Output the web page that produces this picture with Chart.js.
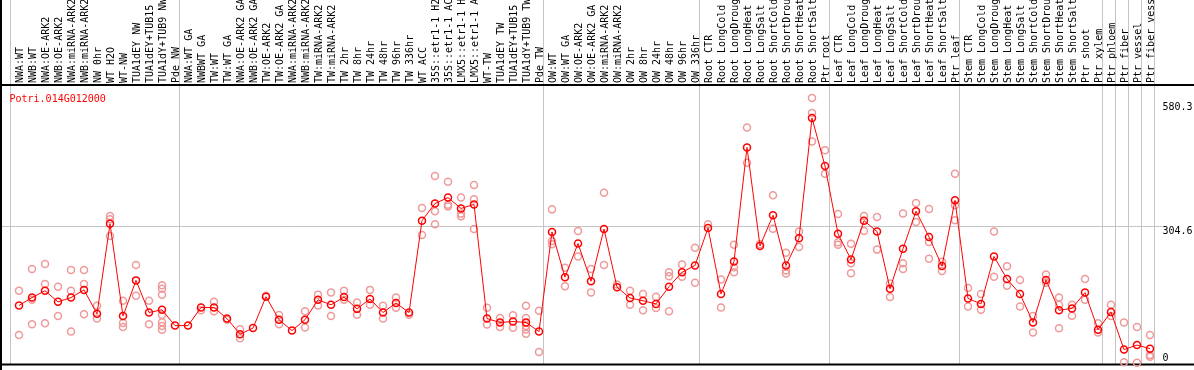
<!DOCTYPE html>
<html>
<head>
<meta charset="utf-8">
<script src="https://cdn.jsdelivr.net/npm/chart.js@4.4.0/dist/chart.umd.min.js"></script>
<style>
  html, body { margin: 0; padding: 0; background: #fff; }
  canvas { display: block; }
</style>
</head>
<body>
<canvas id="chart" width="1194" height="370"></canvas>
<script>
const geneName = 'Potri.014G012000';

const sampleLabels = [
  'NWA:WT', 'NWB:WT', 'NWA:OE-ARK2', 'NWB:OE-ARK2', 'NWA:miRNA-ARK2', 'NWB:miRNA-ARK2',
  'NW 0hr', 'WT H2O', 'WT-NW', 'TUA1dEY NW', 'TUA1dEY+TUB15 NW', 'TUA1dY+TUB9 NW', 'Pde NW',
  'NWA:WT GA', 'NWBWT GA', 'TW:WT', 'TW:WT GA', 'NWA:OE-ARK2 GA', 'NWB:OE-ARK2 GA',
  'TW:OE-ARK2', 'TW:OE-ARK2 GA', 'NWA:miRNA-ARK2', 'NWB:miRNA-ARK2', 'TW:miRNA-ARK2', 'TW:miRNA-ARK2',
  'TW 2hr', 'TW 8hr', 'TW 24hr', 'TW 48hr', 'TW 96hr', 'TW 336hr', 'WT ACC',
  '35S::etr1-1 H2O', '35S::etr1-1 ACC', 'LMX5::etr1-1 H2O', 'LMX5::etr1-1 ACC',
  'WT-TW', 'TUA1dEY TW', 'TUA1dEY+TUB15 TW', 'TUA1dY+TUB9 TW', 'Pde TW',
  'OW:WT', 'OW:WT GA', 'OW:OE-ARK2', 'OW:OE-ARK2 GA', 'OW:miRNA-ARK2', 'OW:miRNA-ARK2',
  'OW 2hr', 'OW 8hr', 'OW 24hr', 'OW 48hr', 'OW 96hr', 'OW 336hr',
  'Root CTR', 'Root LongCold', 'Root LongDrought', 'Root LongHeat', 'Root LongSalt',
  'Root ShortCold', 'Root ShortDrought', 'Root ShortHeat', 'Root ShortSalt', 'Ptr root',
  'Leaf CTR', 'Leaf LongCold', 'Leaf LongDrought', 'Leaf LongHeat', 'Leaf LongSalt',
  'Leaf ShortCold', 'Leaf ShortDrought', 'Leaf ShortHeat', 'Leaf ShortSalt', 'Ptr leaf',
  'Stem CTR', 'Stem LongCold', 'Stem LongDrought', 'Stem LongHeat', 'Stem LongSalt',
  'Stem ShortCold', 'Stem ShortDrought', 'Stem ShortHeat', 'Stem ShortSalt', 'Ptr shoot',
  'Ptr xylem', 'Ptr phloem', 'Ptr fiber', 'Ptr vessel', 'Ptr fiber vessel'
];

// index of the first sample of each experiment block (last entry = end)
const groupStarts = [0, 13, 41, 53, 63, 73, 84, 85, 86, 87, 88];

const meanValues = [
  130.5, 148, 163, 138.5, 148, 165, 112, 311, 107, 186,
  115, 121, 86, 86, 126, 126, 101.5, 67, 80.5, 150,
  99, 75, 99, 143, 132, 149, 123, 145, 115, 136,
  115, 318, 356, 369, 345, 354, 101.5, 93, 95, 93,
  73, 293, 193, 267.6, 184, 299.5, 171, 147, 141, 134,
  172, 204, 219, 302, 156, 228, 480, 262, 330, 219,
  279, 545, 439, 289, 232, 318, 294, 167.5, 256, 339,
  282, 217.6, 363, 146, 134, 239, 189, 156, 93, 187,
  120, 124, 159, 77, 116, 33, 43, 35
];

const replicateValues = [
  [163, 65], [211, 143, 89], [222, 178, 91], [172, 107], [209, 163, 73], [209, 178, 111],
  [130, 101.5], [328.5, 321, 284], [141, 92, 83], [220, 152], [141, 89],
  [175, 167.5, 154, 109.5, 93.6, 85, 77], [], [], [120], [139, 117.5], [99], [78, 58], [],
  [152], [109.5, 89], [], [117.5, 82], [154.5, 130.5], [159, 107], [163, 143], [137, 110],
  [165, 132], [130, 101.5], [148, 125.5], [110], [346, 286.5], [417, 339, 310],
  [404, 353, 349.6], [369, 333.6, 328], [397, 365.5, 299.5], [125.5, 88.5], [103, 83],
  [109, 81], [130, 103, 85, 77.6, 68], [119, 27.6], [343, 273, 266], [214, 173],
  [295, 238.6], [211, 159], [380, 220], [177], [163, 132], [156, 120], [150, 125],
  [204, 195, 117.5], [221, 194], [258, 180.6], [310], [188, 126], [265, 215, 204],
  [524, 446], [266], [374, 300], [247, 208, 201], [294, 260], [589, 556, 493],
  [474, 422], [333, 270.5, 265], [267, 224, 202], [328.5, 295], [326, 254], [179, 149],
  [334, 224, 211], [357, 315], [344, 271, 234], [227, 207], [422, 352, 319], [169, 128],
  [156, 121], [294, 194], [217, 174], [187, 128], [107, 71], [199, 181], [148, 132, 80],
  [132, 108], [189, 143], [91, 71], [132, 107], [93, 5], [83, 4], [65, 21, 17]
];

const yTickValues = [0, 304.6, 580.3];
const yTickLabels = ['0', '304.6', '580.3'];
const yGridValue = 304.6;
const yMax = 618;

const MONO = '"DejaVu Sans Mono", "Liberation Mono", monospace';
const GRID = '#c4c4c4';

// replicate points, one dataset per replicate slot
const maxReps = Math.max(...replicateValues.map(r => r.length));
const repDatasets = [];
for (let k = 0; k < maxReps; k++) {
  repDatasets.push({
    data: replicateValues.map(r => (r[k] === undefined ? null : r[k])),
    showLine: false,
    pointRadius: 3.5,
    pointBorderWidth: 1.5,
    pointBorderColor: '#ee9a9a',
    pointBackgroundColor: 'transparent',
    clip: false
  });
}

const framePlugin = {
  id: 'frame',
  beforeDraw(chart) {
    const { ctx, chartArea } = chart;
    const x = chart.scales.x, y = chart.scales.y;
    const first = x.getPixelForValue(0);
    const step = x.getPixelForValue(1) - first;
    ctx.save();
    ctx.strokeStyle = GRID;
    ctx.lineWidth = 1;
    ctx.beginPath();
    groupStarts.forEach(i => {
      const px = Math.floor(first + (i - 0.65) * step) + 0.5;
      ctx.moveTo(px, 0);
      ctx.lineTo(px, chartArea.bottom);
    });
    const gy = Math.floor(y.getPixelForValue(yGridValue)) + 0.5;
    ctx.moveTo(0, gy);
    ctx.lineTo(y.left + 6, gy);
    ctx.stroke();

    ctx.strokeStyle = '#000';
    ctx.lineWidth = 2;
    ctx.beginPath();
    ctx.moveTo(1, 0);
    ctx.lineTo(1, chart.height);
    ctx.moveTo(0, chartArea.top);
    ctx.lineTo(chart.width, chartArea.top);
    ctx.moveTo(0, chartArea.bottom);
    ctx.lineTo(chart.width, chartArea.bottom);
    ctx.stroke();
    ctx.restore();
  },
  afterDraw(chart) {
    const { ctx, chartArea } = chart;
    const y = chart.scales.y;
    ctx.save();
    ctx.font = '10px ' + MONO;
    ctx.textBaseline = 'alphabetic';
    ctx.textAlign = 'left';
    ctx.fillStyle = '#000';
    yTickValues.forEach((v, i) => {
      const py = Math.min(y.getPixelForValue(v) + 7.5, chartArea.bottom - 4);
      ctx.fillText(yTickLabels[i], y.left + 6, py);
    });
    ctx.fillStyle = '#ff0000';
    ctx.fillText(geneName, 9.5, chartArea.top + 17);
    ctx.restore();
  }
};

new Chart(document.getElementById('chart'), {
  type: 'line',
  data: {
    labels: sampleLabels,
    datasets: [{
      data: meanValues,
      borderColor: '#ff0000',
      borderWidth: 1,
      tension: 0,
      pointRadius: 3.5,
      pointBorderWidth: 1.5,
      pointBorderColor: '#ff0000',
      pointBackgroundColor: 'transparent',
      clip: false
    }, ...repDatasets]
  },
  options: {
    responsive: false,
    animation: false,
    events: [],
    layout: { padding: { left: 12.5, right: 0, top: 0, bottom: 1 } },
    plugins: {
      legend: { display: false },
      tooltip: { enabled: false },
      title: { display: false }
    },
    scales: {
      x: {
        position: 'top',
        offset: true,
        grid: { display: false, drawTicks: false },
        border: { display: false },
        ticks: {
          autoSkip: false,
          minRotation: 90,
          maxRotation: 90,
          padding: 2,
          labelOffset: 13,
          color: '#000',
          font: { family: MONO, size: 10 }
        },
        afterFit(scale) { scale.height = 85; }
      },
      y: {
        position: 'right',
        min: 0,
        max: yMax,
        grid: { display: false, drawTicks: false },
        border: { display: false },
        ticks: { display: false },
        afterBuildTicks(scale) { scale.ticks = yTickValues.map(v => ({ value: v })); },
        afterFit(scale) { scale.width = 37.5; }
      }
    }
  },
  plugins: [framePlugin]
});
</script>
</body>
</html>
